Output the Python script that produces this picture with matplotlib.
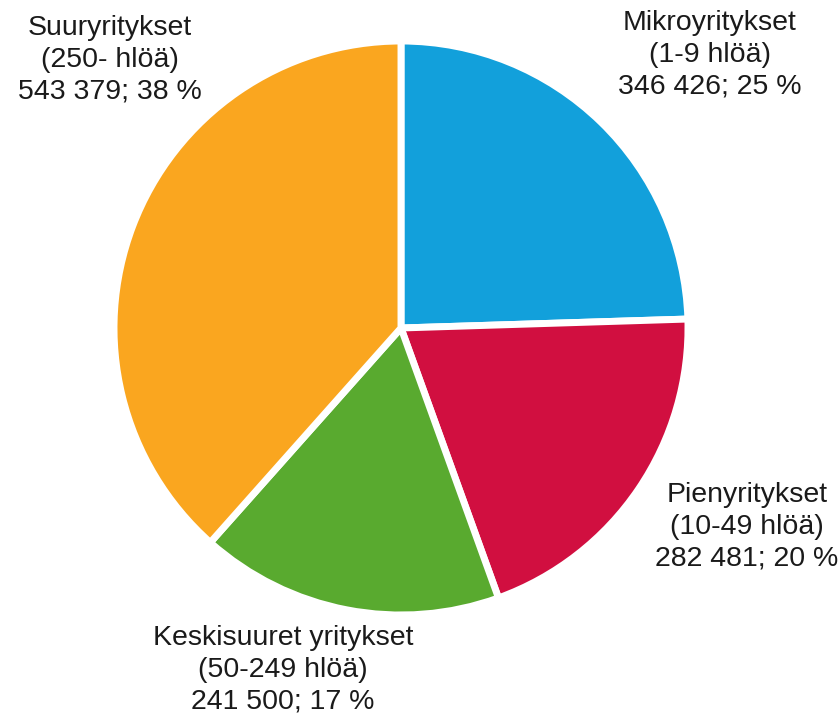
import matplotlib.pyplot as plt

# data
names = ['Mikroyritykset', 'Pienyritykset', 'Keskisuuret yritykset', 'Suuryritykset']
groups = ['(1-9 hlöä)', '(10-49 hlöä)', '(50-249 hlöä)', '(250- hlöä)']
values = [346426, 282481, 241500, 543379]
colors = ['#12A0DB', '#D10F40', '#59AA2F', '#FAA61F']

# label centres in pixels (x, y from bottom)
label_pos = [(710, 663), (747, 191), (283, 48), (110, 658)]

plt.rcParams['font.family'] = ['Liberation Sans', 'DejaVu Sans']

fig = plt.figure(figsize=(8.39, 7.18), dpi=100)
ax = fig.add_axes([0, 0, 1, 1])

ax.pie(values, colors=colors, startangle=90, counterclock=False,
       center=(401, 390), radius=287,
       wedgeprops=dict(edgecolor='white', linewidth=5))

ax.set_xlim(0, 839)
ax.set_ylim(0, 718)
ax.set_aspect('equal')
ax.axis('off')

total = sum(values)
for n, g, v, (x, y) in zip(names, groups, values, label_pos):
    pct = round(v / total * 100)
    txt = f"{n}\n{g}\n{v:,}".replace(',', ' ') + f"; {pct} %"
    ax.text(x, y, txt, ha='center', va='center', multialignment='center',
            fontsize=20.5, linespacing=1.28, color='#1a1a1a')

fig.savefig('out.png', dpi=100)
